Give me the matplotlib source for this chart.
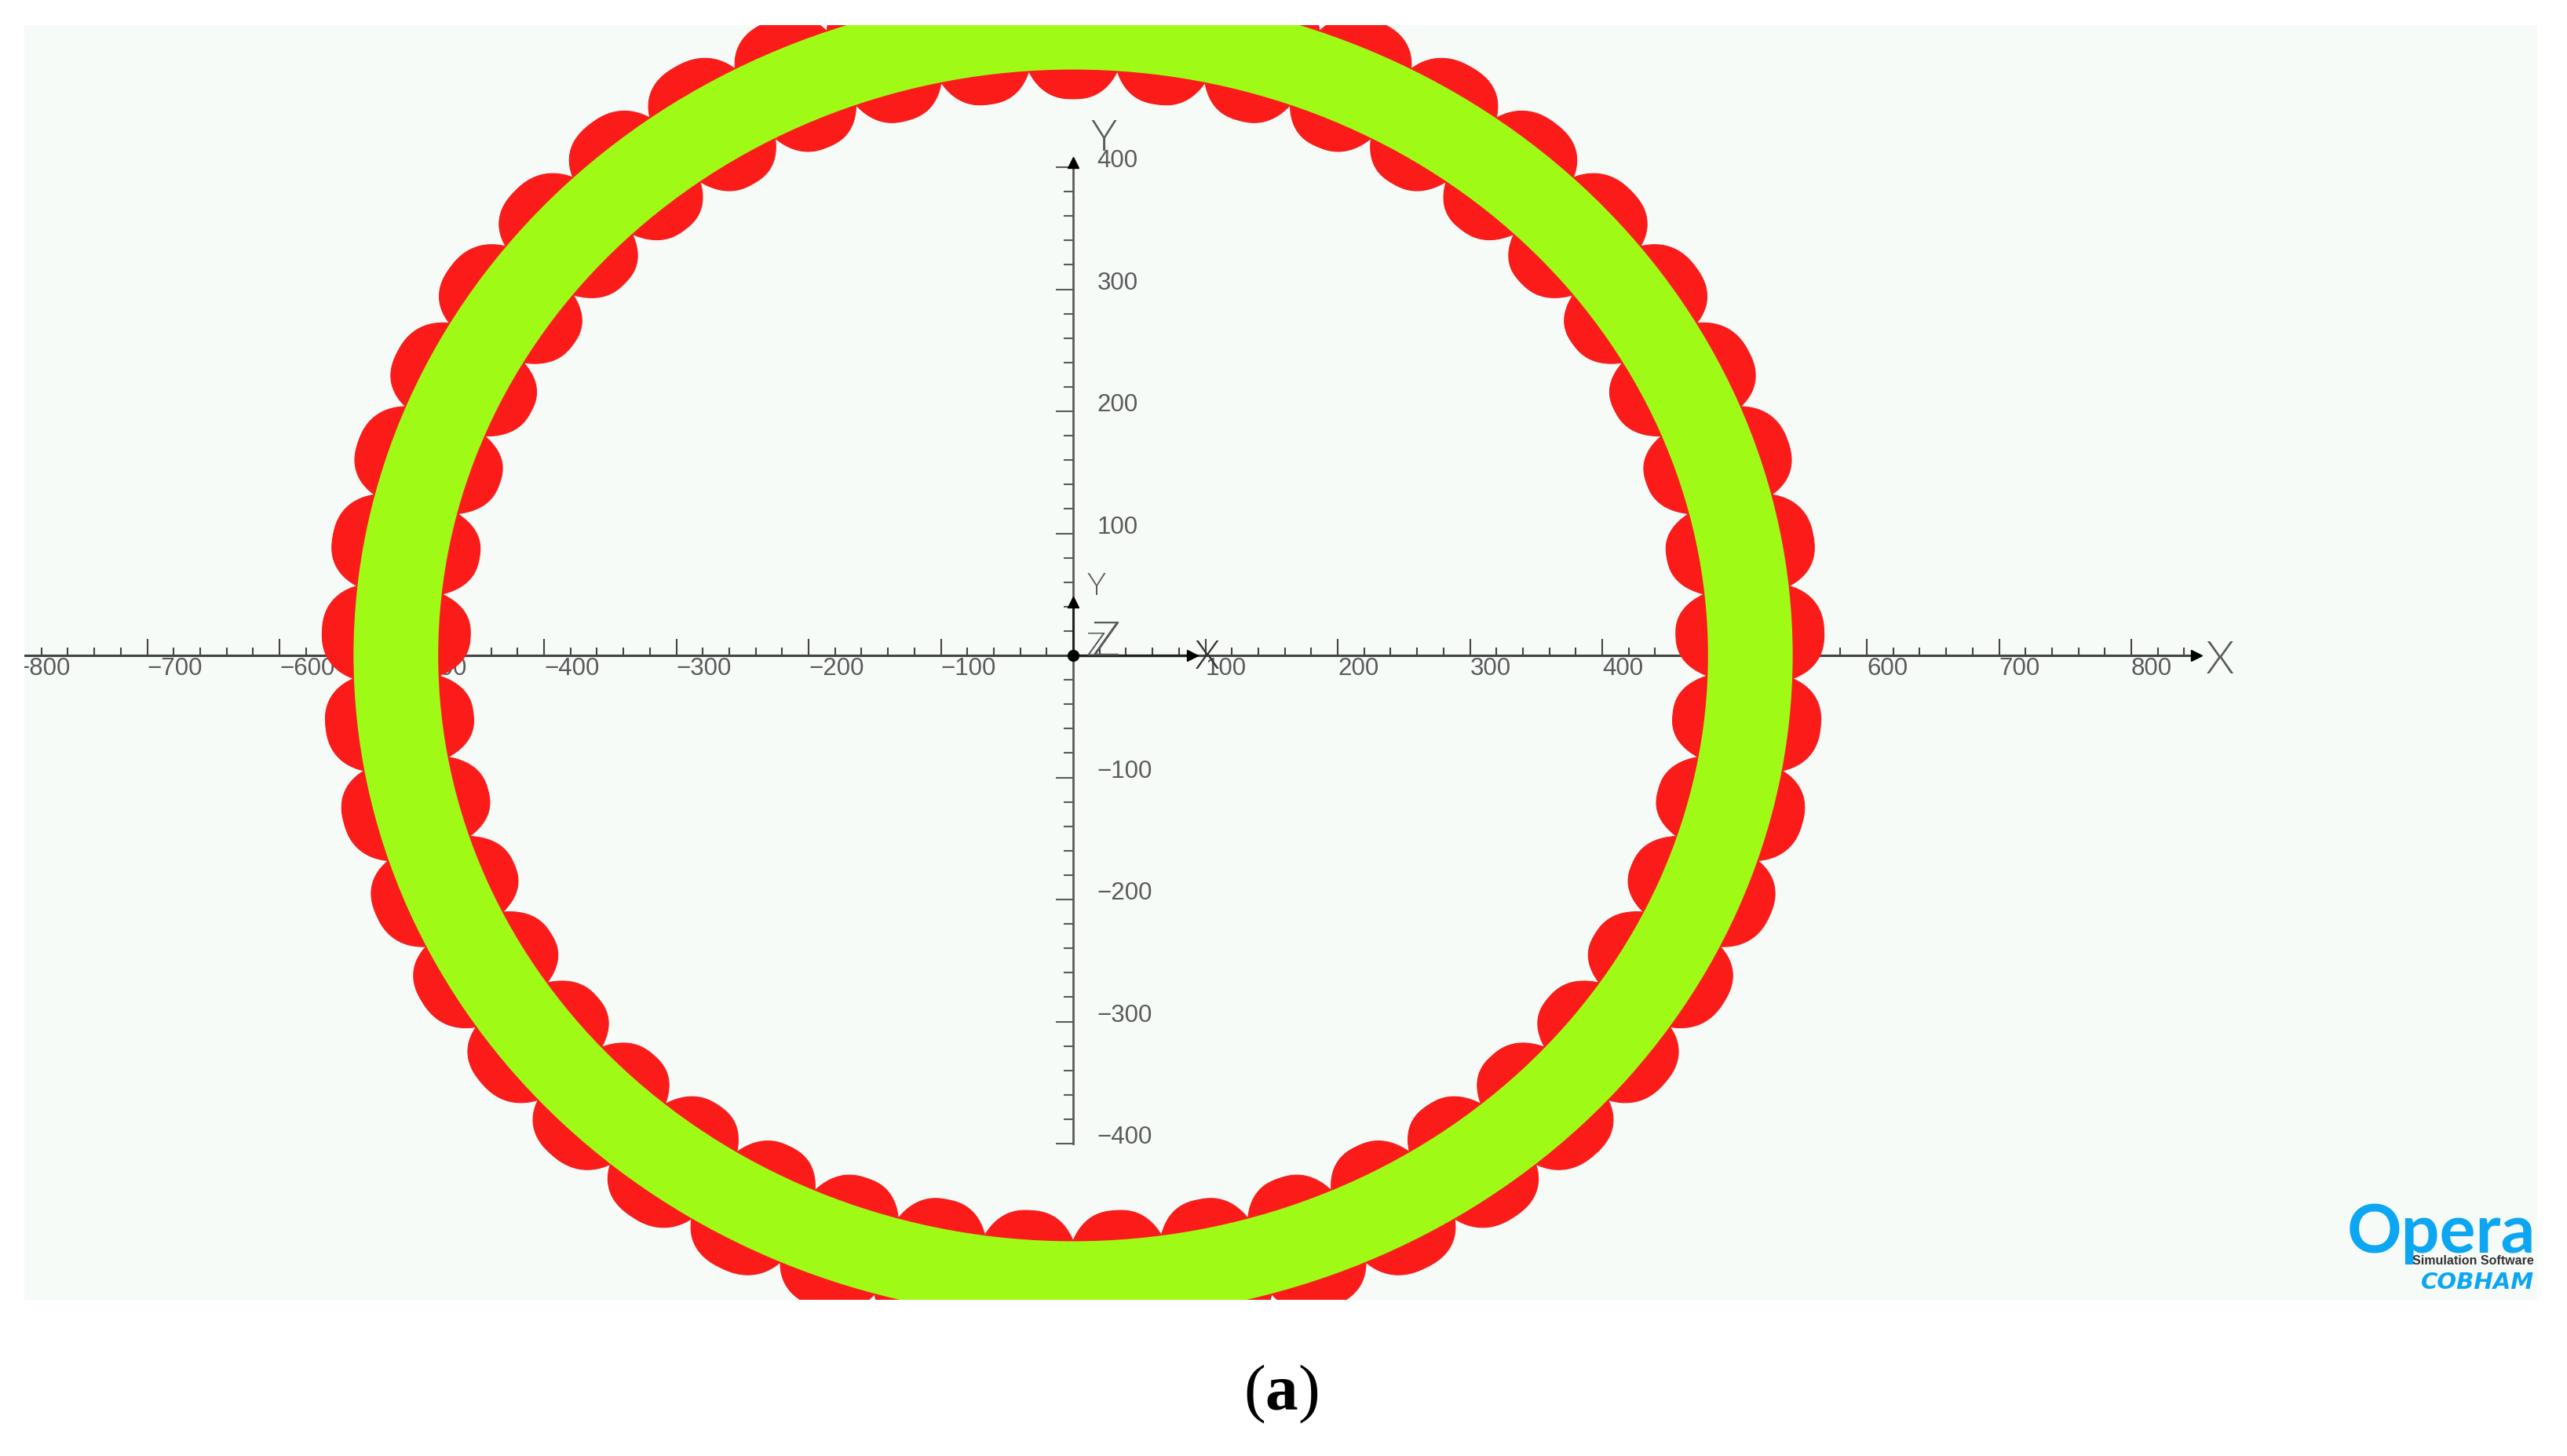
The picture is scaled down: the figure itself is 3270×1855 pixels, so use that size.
"""
Opera 2D view: rotor ring with surface coils, section (a).
Axes are kept in the model units of the screenshot (x and y scales differ slightly).
"""
import matplotlib
matplotlib.use("Agg")
import matplotlib.pyplot as plt
import numpy as np
from matplotlib.patches import Polygon, Wedge

# ---------------------------------------------------------------------------
# Data
# ---------------------------------------------------------------------------
X_TICKS = [-800, -700, -600, -500, -400, -300, -200, -100,
           100, 200, 300, 400, 500, 600, 700, 800]
Y_TICKS = [-400, -300, -200, -100, 100, 200, 300, 400]

# coil centre angles (deg)
COIL_ANGLES = [90, 82, 74, 66, 58, 50, 42, 34, 26, 18, 10, 2, -6, -14, -22,
               -30, -38, -46, -54, -62, -70, -78, -86, -94, -102, -110, -118,
               -126, -134, -142, -150, -158, -166, -174, -182, -190, -198,
               -206, -214, -222, -230, -238, -246, -254, -262]
COIL_R_IN = 456
COIL_R_OUT = 568
RING_R_IN = 480
RING_R_OUT = 544

W, H = 3270, 1855
col_bg = "#f7fbf8"
col_ring = "#9ffb16"
col_coil = "#fb1c1a"
col_text = "#5a5a5a"
col_axis = "#444444"
col_logo = "#0ca6f2"

plt.rcParams["font.family"] = ["Liberation Sans", "DejaVu Sans"]
plt.rcParams["mathtext.fontset"] = "custom"
plt.rcParams["mathtext.bf"] = "Liberation Serif:bold"

fig = plt.figure(figsize=(W / 100, H / 100), dpi=100, facecolor="white")


def fx(px):
    return px / W


def fy(py):
    return 1 - py / H


# panel in pixels: 31..3232, 32..1656; 1 unit = 1.685 px in x, 1.555 px in y
ax = fig.add_axes([fx(31), fy(1656), fx(3232 - 31), fy(32) - fy(1656)])
ax.set_xlim((31 - 1367) / 1.685, (3232 - 1367) / 1.685)
ax.set_ylim((835 - 1656) / 1.555, (835 - 32) / 1.555)
ax.set_axis_off()
ax.add_patch(plt.Rectangle((0, 0), 1, 1, transform=ax.transAxes,
                           color=col_bg, zorder=0))

# ---------------------------------------------------------------------------
# Axes of the model view
# ---------------------------------------------------------------------------
ax.plot([-830, 850], [0, 0], color=col_axis, lw=2.2, zorder=2)
ax.plot([0, 0], [-400, 405], color=col_text, lw=2.0, zorder=2)

x_minor = [v for v in range(-820, 850, 20) if v % 100 != 0]
y_minor = [v for v in range(-380, 400, 20) if v % 100 != 0 and v != 0]
ax.vlines(x_minor, 0, 6.5, color=col_axis, lw=1.5, zorder=2)
ax.vlines(X_TICKS, 0, 13.5, color=col_axis, lw=1.5, zorder=2)
ax.hlines(y_minor, -7, 0, color=col_text, lw=1.5, zorder=2)
ax.hlines(Y_TICKS, -13, 0, color=col_text, lw=1.5, zorder=2)

for v in X_TICKS:
    label = f"{v}".replace("-", "\u2212")
    ax.text(v, -11, label, ha="left", va="center", fontsize=22.5,
            color=col_text, clip_on=True, zorder=2)
for v in Y_TICKS:
    label = f"{v}".replace("-", "\u2212")
    ax.text(18, v + 5, label, ha="left", va="center", fontsize=22.5,
            color=col_text, clip_on=True, zorder=2)

ax.plot([849], [0], marker=">", ms=10, color="black", zorder=2)
ax.plot([0], [404], marker="^", ms=10, color="black", zorder=2)
ax.plot([0, 90], [0, 0], color="#222222", lw=2.4, zorder=2)
ax.plot([0, 0], [0, 44], color="#222222", lw=2.2, zorder=2)
ax.plot([90], [0], marker=">", ms=10, color="black", zorder=2)
ax.plot([0], [44], marker="^", ms=10, color="black", zorder=2)
ax.plot([0], [0], marker="o", ms=10, color="black", zorder=2)


def axis_letter(s, px, py, size, color=col_text):
    fig.text(fx(px), fy(py), s, fontsize=size, color=color, ha="center",
             va="center_baseline", family="Lato", fontweight=300, zorder=5)


axis_letter("X", 2828, 837, 42)
axis_letter("Y", 1406, 172, 40)
axis_letter("Y", 1397, 744, 29)
axis_letter("X", 1538, 833, 37, "#333333")
axis_letter("Z", 1409, 813, 44)
axis_letter("Z", 1396, 820, 30)

# ---------------------------------------------------------------------------
# Coils and ring
# ---------------------------------------------------------------------------
t = np.linspace(0, 2 * np.pi, 200)
p = 2.4
u = np.sign(np.cos(t)) * np.abs(np.cos(t)) ** (2 / p)
v = np.sign(np.sin(t)) * np.abs(np.sin(t)) ** (2 / p)
r_mid = (COIL_R_IN + COIL_R_OUT) / 2
r_half = (COIL_R_OUT - COIL_R_IN) / 2
for ang in COIL_ANGLES:
    rr = r_mid + r_half * u
    th = np.radians(ang + 4.55 * v)
    ax.add_patch(Polygon(np.column_stack([rr * np.cos(th), rr * np.sin(th)]),
                         closed=True, facecolor=col_coil, edgecolor="#f01e1e",
                         lw=0.8, zorder=3))

ax.add_patch(Wedge((0, 0), RING_R_OUT, 0, 360, width=RING_R_OUT - RING_R_IN,
                   facecolor=col_ring, edgecolor="none", zorder=4))

# ---------------------------------------------------------------------------
# Logo and caption
# ---------------------------------------------------------------------------
fig.text(fx(3230), fy(1596), "Opera", fontsize=62, color=col_logo, ha="right",
         va="baseline", family="Lato", fontweight="bold")
fig.text(fx(3228), fy(1611), "Simulation Software", fontsize=11.5,
         color="#333333", ha="right", va="baseline", fontweight="bold")
fig.text(fx(3228), fy(1642), "COBHAM", fontsize=21, color=col_logo, ha="right",
         va="baseline", family="DejaVu Sans", fontweight="bold", style="oblique")

fig.text(fx(1632), fy(1796), r"($\mathbf{a}$)", fontsize=60, color="black",
         ha="center", va="baseline", family="Liberation Serif")

fig.savefig("out.png", dpi=100)
